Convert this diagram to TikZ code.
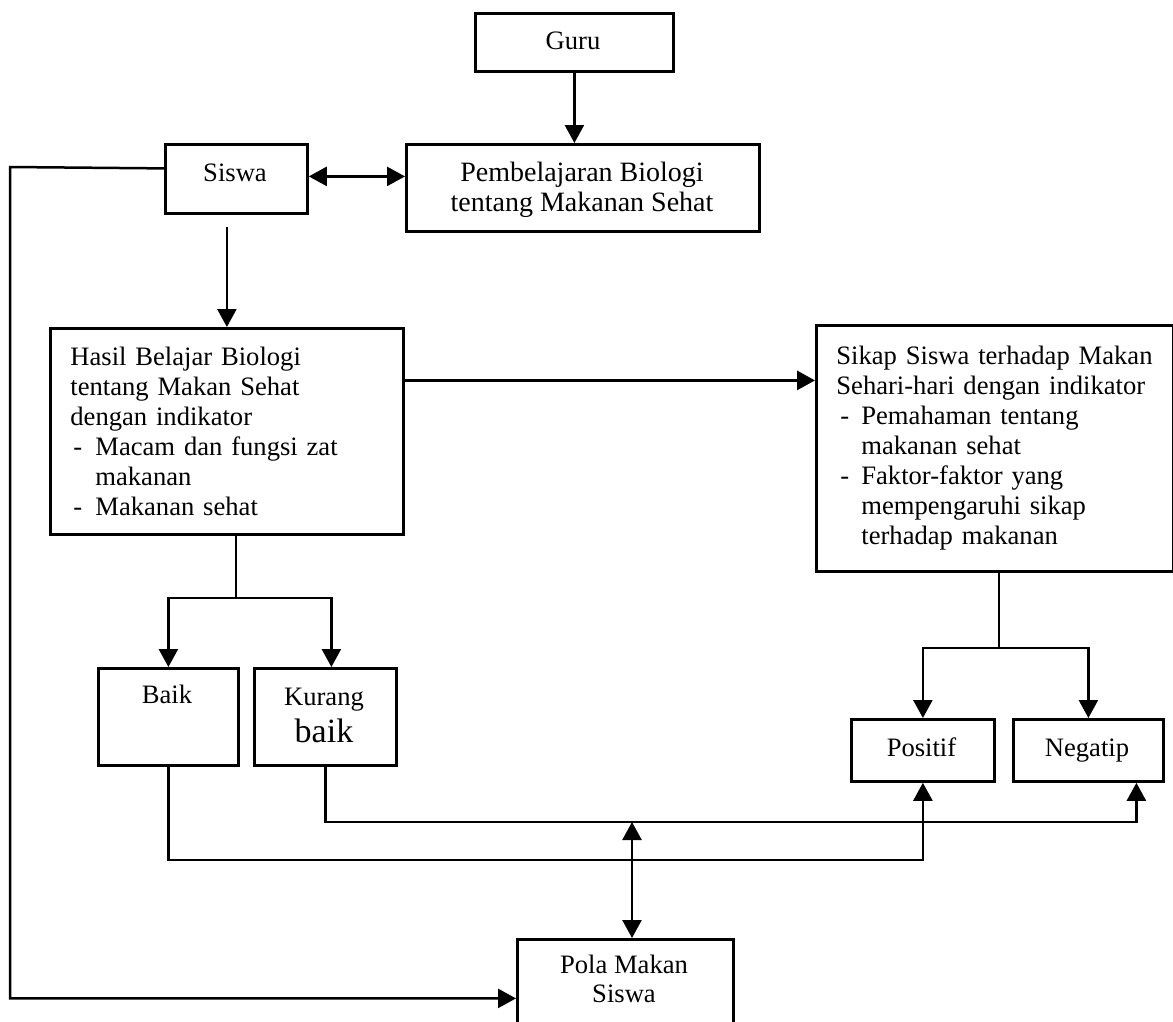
\documentclass[tikz,border=0pt]{standalone}
\usepackage{fontspec}
\setmainfont{Liberation Serif}
\usetikzlibrary{arrows.meta,calc}
\begin{document}
\begin{tikzpicture}[x=1pt,y=-1pt,
  box/.style={draw,line width=2.8pt,inner sep=0pt,anchor=north west,font=\fontsize{26.6}{30}\selectfont},
  txt/.style={inner sep=0pt,font=\fontsize{26.6}{30}\selectfont},
  conn/.style={line width=2.5pt},
  arr/.style={conn,-{Triangle[length=18pt,width=19pt]}},
  darr/.style={conn,{Triangle[length=18pt,width=19pt]}-{Triangle[length=18pt,width=19pt]}}
]
\useasboundingbox (0,0) rectangle (1173,1021);

% boxes
\node[box,minimum width=198pt,minimum height=58pt] (guru) at (474,12) {};
\node[txt,anchor=base] (guruT) at (573,49) {Guru};
\node[box,minimum width=353pt,minimum height=87pt] (pemb) at (405,143) {};
\node[txt,anchor=base,align=center,font=\fontsize{28}{30}\selectfont] (pembT) at (582,211) {Pembelajaran Biologi\\tentang Makanan Sehat};
\node[box,minimum width=142pt,minimum height=69pt] (siswa) at (164,143) {};
\node[txt,anchor=base] (siswaT) at (235,181) {Siswa};

\node[box,minimum width=353pt,minimum height=206pt,text width=313pt,inner xsep=20pt,align=left] (hasil) at (49,327)
 {Hasil Belajar Biologi\\
  tentang Makan Sehat\\
  dengan indikator\\
  \makebox[25pt][l]{\hspace{3pt}-}Macam dan fungsi zat\\
  \hspace*{25pt}makanan\\
  \makebox[25pt][l]{\hspace{3pt}-}Makanan sehat};

\node[box,minimum width=357pt,minimum height=246pt,text width=317pt,inner xsep=20pt,align=left] (sikap) at (815,324)
 {Sikap Siswa terhadap Makan\\
  Sehari-hari dengan indikator\\
  \makebox[25pt][l]{\hspace{4pt}-}Pemahaman tentang\\
  \hspace*{25pt}makanan sehat\\
  \makebox[25pt][l]{\hspace{4pt}-}Faktor-faktor yang\\
  \hspace*{25pt}mempengaruhi sikap\\
  \hspace*{25pt}terhadap makanan};

\node[box,minimum width=140pt,minimum height=97pt] (baik) at (97,667) {};
\node[txt,anchor=base] (baikT) at (167,703) {Baik};
\node[box,minimum width=142pt,minimum height=97pt] (kurang) at (253,667) {};
\node[txt,anchor=base] (kurangT1) at (324,705) {Kurang};
\node[txt,anchor=base,font=\fontsize{34}{36}\selectfont] (kurangT2) at (324,742) {baik};

\node[box,minimum width=143pt,minimum height=62pt] (positif) at (850,718) {};
\node[txt,anchor=base] (positifT) at (921.5,756) {Positif};
\node[box,minimum width=150pt,minimum height=62pt] (negatip) at (1012,718) {};
\node[txt,anchor=base] (negatipT) at (1087,756) {Negatip};

\node[box,minimum width=216pt,minimum height=118pt] (pola) at (516,938) {};
\node[txt,anchor=base] (polaT1) at (624,973) {Pola Makan};
\node[txt,anchor=base] (polaT2) at (624,1002) {Siswa};

% helper coordinates
\coordinate (lcorner) at (10,167);
\coordinate (hj) at (236,598);
\coordinate (sj) at (999,648);
\coordinate (yk) at (0,822);
\coordinate (yb) at (0,860);
\coordinate (mj) at (632,822);
\coordinate (nr) at ([xshift=48pt]negatip.south);

% connectors
\draw[arr] (guru.south) -- (guru.south |- pemb.north);
\draw[darr] ([yshift=2.5pt]siswa.east) -- ([yshift=2.5pt]siswa.east -| pemb.west);
\draw[arr] ([yshift=10.5pt]siswa.west) -- (lcorner) |- (pola.west);
\draw[arr] ([yshift=-12pt]siswa.south -| hasil.north) -- (hasil.north);
\draw[conn,line width=3pt,-{Triangle[length=18pt,width=19pt]}] ([yshift=51pt]hasil.east) -- ([yshift=51pt]hasil.east -| sikap.west);

\draw[conn] (hasil.south -| hj) -- (hj);
\draw[arr] (hj) -| (baik.north);
\draw[arr] (hj) -| ([xshift=6pt]kurang.north);

\draw[conn] (sikap.south -| sj) -- (sj);
\draw[arr] (sj) -| (positif.north);
\draw[arr] (sj) -| (negatip.north);

\draw[arr] (kurang.south) -- (kurang.south |- yk) -- (nr |- yk) -- (nr);
\draw[arr] (baik.south) -- (baik.south |- yb) -- (positif.south |- yb) -- (positif.south);
\draw[darr] (mj) -- (mj |- pola.north);
\end{tikzpicture}
\end{document}
